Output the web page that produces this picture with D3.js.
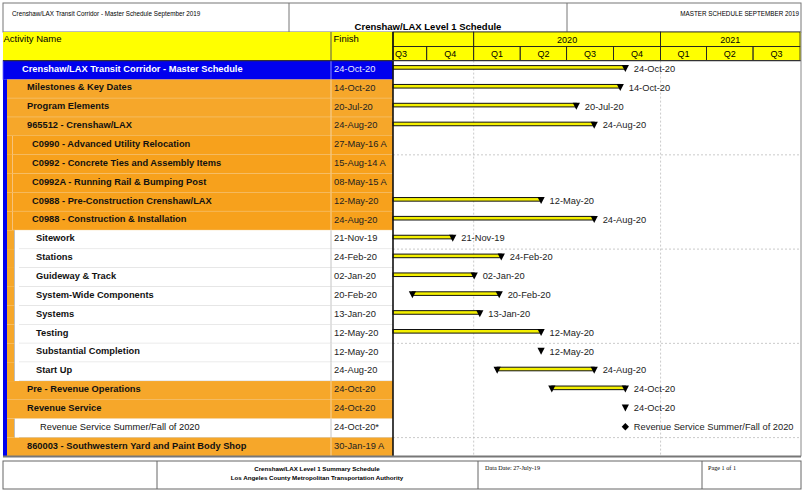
<!DOCTYPE html>
<html>
<head>
<meta charset="utf-8">
<script src="https://cdn.jsdelivr.net/npm/d3@7"></script>
<style>
body { margin: 0; background: #fff; }
text { font-family: "Liberation Sans", Arial, sans-serif; }
</style>
</head>
<body>
<svg id="chart" width="806" height="499"></svg>
<script>
// schedule data
var activities = [
    "Crenshaw/LAX Transit Corridor - Master Schedule",
    "Milestones & Key Dates",
    "Program Elements",
    "965512 - Crenshaw/LAX",
    "C0990 - Advanced Utility Relocation",
    "C0992 - Concrete Ties and Assembly Items",
    "C0992A - Running Rail & Bumping Post",
    "C0988 - Pre-Construction Crenshaw/LAX",
    "C0988 - Construction & Installation",
    "Sitework",
    "Stations",
    "Guideway & Track",
    "System-Wide Components",
    "Systems",
    "Testing",
    "Substantial Completion",
    "Start Up",
    "Pre - Revenue Operations",
    "Revenue Service",
    "Revenue Service Summer/Fall of 2020",
    "860003 - Southwestern Yard and Paint Body Shop"
]
var finishLabels = [
    "24-Oct-20", "14-Oct-20", "20-Jul-20", "24-Aug-20", "27-May-16 A", "15-Aug-14 A",
    "08-May-15 A", "12-May-20", "24-Aug-20", "21-Nov-19", "24-Feb-20", "02-Jan-20",
    "20-Feb-20", "13-Jan-20", "12-May-20", "12-May-20", "24-Aug-20", "24-Oct-20",
    "24-Oct-20", "24-Oct-20*", "30-Jan-19 A"
]
var levels = [0, 1, 1, 1, 2, 2, 2, 2, 2, 3, 3, 3, 3, 3, 3, 3, 3, 1, 1, 3, 1]
var barStarts = [
    "2019-07-27", "2019-07-27", "2019-07-27", "2019-07-27", null, null, null,
    "2019-07-27", "2019-07-27", "2019-07-27", "2019-07-27", "2019-07-27", "2019-09-03",
    "2019-07-27", "2019-07-27", null, "2020-02-16", "2020-06-02", null, null, null
]
var barEnds = [
    "2020-10-24", "2020-10-14", "2020-07-20", "2020-08-24", null, null, null,
    "2020-05-12", "2020-08-24", "2019-11-21", "2020-02-24", "2020-01-02", "2020-02-20",
    "2020-01-13", "2020-05-12", "2020-05-12", "2020-08-24", "2020-10-24", "2020-10-24",
    "2020-10-24", null
]
var markTypes = [
    "bar", "bar", "bar", "bar", null, null, null, "bar", "bar", "bar", "bar", "bar", "bar",
    "bar", "bar", "milestone", "bar", "bar", "milestone", "diamond", null
]
var startMarks = [
    false, false, false, false, false, false, false, false, false, false, false, false, true,
    false, false, false, true, true, false, false, false
]
var barLabels = [
    "24-Oct-20", "14-Oct-20", "20-Jul-20", "24-Aug-20", "", "", "", "12-May-20", "24-Aug-20",
    "21-Nov-19", "24-Feb-20", "02-Jan-20", "20-Feb-20", "13-Jan-20", "12-May-20", "12-May-20",
    "24-Aug-20", "24-Oct-20", "24-Oct-20", "Revenue Service Summer/Fall of 2020", ""
]
var dataDate = "2019-07-27"
var timelineEnd = "2021-10-01"

var svg = d3.select("#chart")
var parse = d3.utcParse("%Y-%m-%d")

var left = 3, right = 801
var nameRight = 331, finishRight = 393
var headTop = 32, yearBottom = 46.5, headBottom = 60.6
var rowTop = 60.6, rowH = 18.85
var tableBottom = rowTop + rowH * activities.length

var blue = "#0000ee", orange1 = "#f6a72a", orange2 = "#f7a11c", yellow = "#ffff00"

var x = d3.scaleUtc().domain([parse(dataDate), parse(timelineEnd)]).range([finishRight, 800])
var y = function(i) { return rowTop + i * rowH }

// ---- title block ----
svg.append("rect").attr("x", left).attr("y", 3).attr("width", right - left).attr("height", headTop - 3)
    .style("fill", "#fff").style("stroke", "#777")
svg.append("line").attr("x1", 289).attr("x2", 289).attr("y1", 3).attr("y2", headTop).style("stroke", "#777")
svg.append("line").attr("x1", 567).attr("x2", 567).attr("y1", 3).attr("y2", headTop).style("stroke", "#777")
svg.append("text").attr("x", 12).attr("y", 13.5).text("Crenshaw/LAX Transit Corridor - Master Schedule September 2019")
    .style("font-size", "6.3px").attr("dominant-baseline", "central")
svg.append("text").attr("x", 799).attr("y", 13.5).text("MASTER SCHEDULE SEPTEMBER 2019")
    .style("font-size", "6.3px").attr("text-anchor", "end").attr("dominant-baseline", "central")
svg.append("text").attr("x", 428).attr("y", 29.5).text("Crenshaw/LAX Level 1 Schedule")
    .style("font-size", "9.5px").style("font-weight", "bold").attr("text-anchor", "middle")

// ---- column headers ----
svg.append("rect").attr("x", left).attr("y", headTop).attr("width", right - left).attr("height", headBottom - headTop)
    .style("fill", yellow)
svg.append("text").attr("x", 3.5).attr("y", 38.5).text("Activity Name").style("font-size", "9.5px").attr("dominant-baseline", "central")
svg.append("text").attr("x", 333.5).attr("y", 38.5).text("Finish").style("font-size", "9.5px").attr("dominant-baseline", "central")

// years
var years = d3.utcYear.range(d3.utcYear.floor(x.domain()[0]), x.domain()[1])
years.forEach(function(d) {
    var x0 = Math.max(x(d), finishRight), x1 = Math.min(x(d3.utcYear.offset(d, 1)), 800)
    svg.append("rect").attr("x", x0).attr("y", headTop).attr("width", x1 - x0).attr("height", yearBottom - headTop)
        .style("fill", "none").style("stroke", "#222").style("stroke-width", 0.8)
    if (x(d) >= finishRight) {
        svg.append("text").attr("x", (x0 + x1) / 2).attr("y", 39.5).text(d.getUTCFullYear())
            .style("font-size", "9px").attr("text-anchor", "middle").attr("dominant-baseline", "central")
    }
})
// quarters
var quarters = d3.utcMonth.every(3).range(d3.utcMonth.every(3).floor(x.domain()[0]), x.domain()[1])
quarters.forEach(function(d) {
    var x0 = Math.max(x(d), finishRight), x1 = Math.min(x(d3.utcMonth.offset(d, 3)), 800)
    var clipped = x(d) < finishRight
    svg.append("rect").attr("x", x0).attr("y", yearBottom).attr("width", x1 - x0).attr("height", headBottom - yearBottom)
        .style("fill", "none").style("stroke", "#222").style("stroke-width", 0.8)
    svg.append("text").attr("x", clipped ? x0 + 2 : (x0 + x1) / 2).attr("y", 54)
        .text("Q" + (Math.floor(d.getUTCMonth() / 3) + 1))
        .style("font-size", "9px").attr("text-anchor", clipped ? "start" : "middle").attr("dominant-baseline", "central")
})

// ---- activity rows ----
var rows = svg.append("g")
activities.forEach(function(name, i) {
    var lv = levels[i], top = y(i)
    if (lv == 0) {
        rows.append("rect").attr("x", left).attr("y", top).attr("width", finishRight - left).attr("height", rowH)
            .style("fill", blue).style("stroke", "#6a6aff").style("stroke-width", 0.8)
    } else if (lv == 1 || lv == 2) {
        rows.append("rect").attr("x", 7).attr("y", top).attr("width", finishRight - 7).attr("height", rowH)
            .style("fill", lv == 1 ? orange1 : orange2)
        if (lv == 2) {
            rows.append("line").attr("x1", 12.5).attr("x2", 12.5).attr("y1", top).attr("y2", top + rowH)
                .style("stroke", "#f7c27a")
        }
        rows.append("line").attr("x1", lv == 2 ? 12.5 : 7).attr("x2", finishRight).attr("y1", top + rowH).attr("y2", top + rowH)
            .style("stroke", "#f1cf98").style("stroke-width", 0.8)
    } else {
        rows.append("rect").attr("x", 7).attr("y", top).attr("width", 8).attr("height", rowH).style("fill", orange1)
        rows.append("rect").attr("x", 14.5).attr("y", top).attr("width", finishRight - 14.5).attr("height", rowH)
            .style("fill", "#fff")
        rows.append("line").attr("x1", 14.5).attr("x2", 14.5).attr("y1", top).attr("y2", top + rowH)
            .style("stroke", "#bdbdbd")
        rows.append("line").attr("x1", 19).attr("x2", finishRight).attr("y1", top + rowH).attr("y2", top + rowH)
            .style("stroke", "#c8c8c8").style("stroke-width", 0.8)
    }
    rows.append("line").attr("x1", nameRight).attr("x2", nameRight).attr("y1", top).attr("y2", top + rowH)
        .style("stroke", lv == 3 ? "#c4c4c4" : (lv == 0 ? "#8a8aff" : "#f3d3a0"))

    var indent = [22, 27, 32, 36][lv]
    if (i == 19) indent = 40
    rows.append("text").attr("x", indent).attr("y", top + 8).text(name)
        .style("font-size", "9.3px").style("font-weight", i == 19 ? "normal" : "bold")
        .style("fill", lv == 0 ? "#fff" : "#111").attr("dominant-baseline", "central")
    rows.append("text").attr("x", 334).attr("y", top + 8.2).text(finishLabels[i])
        .style("font-size", "9.3px").style("fill", lv == 0 ? "#e8e8ff" : "#222").attr("dominant-baseline", "central")
})
// blue outline strip for the whole project
svg.append("rect").attr("x", left).attr("y", y(1)).attr("width", 4).attr("height", tableBottom - y(1)).style("fill", blue)

// ---- timeline grid ----
var grid = svg.append("g").style("stroke", "#bdbdbd").style("stroke-dasharray", "2,2").style("stroke-width", 0.8)
years.filter(function(d) { return x(d) > finishRight }).forEach(function(d) {
    grid.append("line").attr("x1", x(d)).attr("x2", x(d)).attr("y1", headBottom).attr("y2", tableBottom)
})
d3.range(5, activities.length, 5).forEach(function(i) {
    grid.append("line").attr("x1", finishRight).attr("x2", right).attr("y1", y(i)).attr("y2", y(i))
})

// ---- bars and milestones ----
var tri = function(cx, top) {
    return "M" + (cx - 3.6) + "," + top + "L" + (cx + 3.6) + "," + top + "L" + cx + "," + (top + 7) + "Z"
}
var marks = svg.append("g")
activities.forEach(function(name, i) {
    var type = markTypes[i]
    if (!type) return
    var top = y(i)
    var xe = x(parse(barEnds[i]))
    if (type == "bar") {
        var xs = x(parse(barStarts[i]))
        marks.append("rect").attr("x", xs).attr("y", top + 5).attr("width", xe - xs).attr("height", 3.6)
            .style("fill", "#f4f000").style("stroke", "#111").style("stroke-width", 1)
        if (startMarks[i]) marks.append("path").attr("d", tri(xs, top + 4.5)).style("fill", "#000")
    }
    if (type == "bar" || type == "milestone") {
        marks.append("path").attr("d", tri(xe, top + 4.5)).style("fill", "#000")
    } else {
        marks.append("path").attr("d", d3.symbol(d3.symbolDiamond2, 34)()).attr("transform", "translate(" + xe + "," + (top + 8) + ")")
            .style("fill", "#000")
    }
    marks.append("text").attr("x", xe + 8.5).attr("y", top + 8.2).text(barLabels[i])
        .style("font-size", "9.3px").style("fill", "#222").attr("dominant-baseline", "central")
})

// ---- frame lines ----
svg.append("line").attr("x1", nameRight).attr("x2", nameRight).attr("y1", headTop).attr("y2", headBottom).style("stroke", "#555")
svg.append("line").attr("x1", finishRight).attr("x2", finishRight).attr("y1", headTop).attr("y2", tableBottom)
    .style("stroke", "#111").style("stroke-width", 1.6)
svg.append("line").attr("x1", left).attr("x2", right).attr("y1", headBottom).attr("y2", headBottom)
    .style("stroke", "#333").style("stroke-width", 1.2)
svg.append("line").attr("x1", right).attr("x2", right).attr("y1", headTop).attr("y2", tableBottom).style("stroke", "#888")
svg.append("line").attr("x1", left).attr("x2", right).attr("y1", tableBottom).attr("y2", tableBottom)
    .style("stroke", "#777").style("stroke-width", 2)

// ---- footer ----
svg.append("rect").attr("x", left).attr("y", 461).attr("width", right - left).attr("height", 28)
    .style("fill", "#fff").style("stroke", "#666")
;[157, 478, 702].forEach(function(fx) {
    svg.append("line").attr("x1", fx).attr("x2", fx).attr("y1", 461).attr("y2", 489).style("stroke", "#666")
})
svg.append("text").attr("x", 317).attr("y", 468).text("Crenshaw/LAX Level 1 Summary Schedule")
    .style("font-size", "6.2px").style("font-weight", "bold").attr("text-anchor", "middle").attr("dominant-baseline", "central")
svg.append("text").attr("x", 317).attr("y", 477.5).text("Los Angeles County Metropolitan Transportation Authority")
    .style("font-size", "6.2px").style("font-weight", "bold").attr("text-anchor", "middle").attr("dominant-baseline", "central")
svg.append("text").attr("x", 485).attr("y", 467.5).text("Data Date: 27-July-19")
    .style("font-size", "6.2px").style("font-family", "Liberation Serif, serif").attr("dominant-baseline", "central")
svg.append("text").attr("x", 708).attr("y", 467.5).text("Page 1 of 1")
    .style("font-size", "6.2px").style("font-family", "Liberation Serif, serif").attr("dominant-baseline", "central")
</script>
</body>
</html>
